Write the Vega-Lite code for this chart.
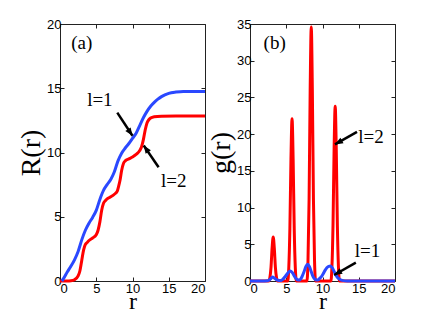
{
  "$schema": "https://vega.github.io/schema/vega-lite/v6.json",
  "background": "white",
  "padding": {"left": 17, "top": 17, "right": 5, "bottom": 0},
  "spacing": -5,
  "config": {
    "view": {"stroke": "#222", "strokeWidth": 1},
    "axis": {
      "labelFont": "Liberation Sans", "labelFontSize": 13, "labelColor": "black",
      "titleFont": "Liberation Serif", "titleFontSize": 28, "titleFontWeight": "normal", "titleColor": "black",
      "domain": false, "grid": false, "tickColor": "#222", "tickSize": -4, "labelPadding": 3
    },
    "axisX": {"labelPadding": 5, "titlePadding": -6, "titleFontSize": 24},
    "axisY": {"titlePadding": 1}
  },
  "datasets": {
    "R1": [
      {"r": 0.25, "R": 0}, {"r": 0.5, "R": 0.2}, {"r": 1, "R": 0.7}, {"r": 1.5, "R": 1.15}, {"r": 2, "R": 1.65},
      {"r": 2.5, "R": 2.3}, {"r": 3, "R": 3.2}, {"r": 3.5, "R": 3.95}, {"r": 4, "R": 4.5}, {"r": 4.5, "R": 4.95},
      {"r": 5, "R": 5.5}, {"r": 5.5, "R": 6.35}, {"r": 6, "R": 7.05}, {"r": 6.5, "R": 7.5}, {"r": 7, "R": 7.9},
      {"r": 7.5, "R": 8.5}, {"r": 8, "R": 9.35}, {"r": 8.5, "R": 9.95}, {"r": 9, "R": 10.35}, {"r": 9.5, "R": 10.7},
      {"r": 10, "R": 11.1}, {"r": 10.5, "R": 11.5}, {"r": 11, "R": 12.1}, {"r": 11.5, "R": 12.7}, {"r": 12, "R": 13.2},
      {"r": 12.5, "R": 13.6}, {"r": 13, "R": 13.9}, {"r": 13.5, "R": 14.15}, {"r": 14, "R": 14.35}, {"r": 15, "R": 14.6},
      {"r": 16, "R": 14.7}, {"r": 17, "R": 14.75}, {"r": 20, "R": 14.75}
    ],
    "R2": [
      {"r": 0, "R": 0}, {"r": 1, "R": 0}, {"r": 1.5, "R": 0.02}, {"r": 2, "R": 0.1}, {"r": 2.5, "R": 0.4},
      {"r": 2.75, "R": 0.8}, {"r": 3, "R": 1.6}, {"r": 3.25, "R": 2.4}, {"r": 3.5, "R": 2.85}, {"r": 3.75, "R": 3.0},
      {"r": 4, "R": 3.15}, {"r": 4.5, "R": 3.35}, {"r": 5, "R": 3.6}, {"r": 5.25, "R": 3.95}, {"r": 5.5, "R": 4.6},
      {"r": 5.75, "R": 5.5}, {"r": 6, "R": 6.05}, {"r": 6.25, "R": 6.25}, {"r": 6.5, "R": 6.4}, {"r": 7, "R": 6.55},
      {"r": 7.5, "R": 6.75}, {"r": 7.9, "R": 7.0}, {"r": 8.1, "R": 7.4}, {"r": 8.3, "R": 7.9}, {"r": 8.5, "R": 8.6},
      {"r": 8.75, "R": 9.15}, {"r": 9, "R": 9.35}, {"r": 9.5, "R": 9.5}, {"r": 10, "R": 9.65}, {"r": 10.5, "R": 9.85},
      {"r": 11, "R": 10.15}, {"r": 11.25, "R": 10.45}, {"r": 11.5, "R": 11.0}, {"r": 11.75, "R": 11.75}, {"r": 12, "R": 12.3},
      {"r": 12.25, "R": 12.55}, {"r": 12.5, "R": 12.68}, {"r": 13, "R": 12.78}, {"r": 14, "R": 12.83}, {"r": 16, "R": 12.85},
      {"r": 20, "R": 12.85}
    ],
    "g1": [
      {"r": 0, "g": 0}, {"r": 2, "g": 0}, {"r": 2.4, "g": 0.02}, {"r": 2.6, "g": 0.1}, {"r": 2.85, "g": 0.3},
      {"r": 3.1, "g": 0.55}, {"r": 3.35, "g": 0.4}, {"r": 3.6, "g": 0.2}, {"r": 3.85, "g": 0.1}, {"r": 4.1, "g": 0.06},
      {"r": 4.3, "g": 0.08}, {"r": 4.55, "g": 0.25}, {"r": 4.8, "g": 0.55}, {"r": 5.05, "g": 0.85}, {"r": 5.3, "g": 1.2},
      {"r": 5.55, "g": 1.37}, {"r": 5.8, "g": 1.2}, {"r": 6.05, "g": 0.8}, {"r": 6.3, "g": 0.4}, {"r": 6.55, "g": 0.17},
      {"r": 6.8, "g": 0.12}, {"r": 7.0, "g": 0.3}, {"r": 7.2, "g": 0.65}, {"r": 7.45, "g": 1.25}, {"r": 7.7, "g": 1.95},
      {"r": 7.95, "g": 2.28}, {"r": 8.2, "g": 1.95}, {"r": 8.45, "g": 1.25}, {"r": 8.7, "g": 0.6}, {"r": 8.95, "g": 0.25},
      {"r": 9.2, "g": 0.12}, {"r": 9.4, "g": 0.15}, {"r": 9.6, "g": 0.35}, {"r": 9.85, "g": 0.6}, {"r": 10.1, "g": 1.0},
      {"r": 10.35, "g": 1.45}, {"r": 10.6, "g": 1.8}, {"r": 10.85, "g": 2.0}, {"r": 11.1, "g": 2.05}, {"r": 11.35, "g": 1.8},
      {"r": 11.6, "g": 1.3}, {"r": 11.85, "g": 0.8}, {"r": 12.1, "g": 0.45}, {"r": 12.35, "g": 0.25}, {"r": 12.6, "g": 0.12},
      {"r": 12.9, "g": 0.05}, {"r": 13.5, "g": 0.01}, {"r": 14, "g": 0}, {"r": 20, "g": 0}
    ],
    "g2": [
      {"r": 0, "g": 0}, {"r": 2.6, "g": 0}, {"r": 2.75, "g": 0.5}, {"r": 2.9, "g": 1.9}, {"r": 3.05, "g": 4.5},
      {"r": 3.2, "g": 6.0}, {"r": 3.35, "g": 4.5}, {"r": 3.5, "g": 1.9}, {"r": 3.65, "g": 0.5}, {"r": 3.8, "g": 0},
      {"r": 5.2, "g": 0}, {"r": 5.35, "g": 1.8}, {"r": 5.5, "g": 7.1}, {"r": 5.65, "g": 16.6}, {"r": 5.8, "g": 22.1},
      {"r": 5.95, "g": 16.6}, {"r": 6.1, "g": 7.1}, {"r": 6.25, "g": 1.8}, {"r": 6.4, "g": 0},
      {"r": 7.85, "g": 0}, {"r": 8.0, "g": 2.8}, {"r": 8.15, "g": 11.1}, {"r": 8.3, "g": 26}, {"r": 8.45, "g": 34.6},
      {"r": 8.6, "g": 26}, {"r": 8.75, "g": 11.1}, {"r": 8.9, "g": 2.8}, {"r": 9.05, "g": 0},
      {"r": 11.15, "g": 0}, {"r": 11.3, "g": 1.9}, {"r": 11.45, "g": 7.6}, {"r": 11.6, "g": 17.9}, {"r": 11.75, "g": 23.8},
      {"r": 11.9, "g": 17.9}, {"r": 12.05, "g": 7.6}, {"r": 12.2, "g": 1.9}, {"r": 12.35, "g": 0}, {"r": 20, "g": 0}
    ]
  },
  "hconcat": [
    {
      "width": 145, "height": 257,
      "resolve": {"axis": {"x": "independent", "y": "independent"}},
      "layer": [
        {
          "data": {"name": "R2"},
          "mark": {"type": "line", "color": "#ff0000", "strokeWidth": 3, "interpolate": "monotone"},
          "encoding": {
            "x": {"field": "r", "type": "quantitative", "scale": {"domain": [0, 20], "nice": false}, "axis": {"values": [0, 5, 10, 15, 20], "title": "r"}},
            "y": {"field": "R", "type": "quantitative", "scale": {"domain": [0, 20], "nice": false}, "axis": {"values": [0, 5, 10, 15, 20], "title": "R(r)"}}
          }
        },
        {
          "data": {"name": "R1"},
          "mark": {"type": "line", "color": "#2a48ff", "strokeWidth": 3, "interpolate": "monotone"},
          "encoding": {
            "x": {"field": "r", "type": "quantitative", "axis": null},
            "y": {"field": "R", "type": "quantitative", "axis": null}
          }
        },
        {
          "data": {"values": [{"r": 0, "R": 0}]},
          "mark": {"type": "point", "opacity": 0},
          "encoding": {
            "x": {"field": "r", "type": "quantitative", "axis": {"orient": "top", "values": [0, 5, 10, 15, 20], "labels": false, "title": null}},
            "y": {"field": "R", "type": "quantitative", "axis": {"orient": "right", "values": [0, 5, 10, 15, 20], "labels": false, "title": null}}
          }
        },
        {
          "data": {"values": [{"x1": 7.9, "y1": 13.1, "x2": 10.0, "y2": 11.3}, {"x1": 13.6, "y1": 8.85, "x2": 11.55, "y2": 10.55}]},
          "mark": {"type": "rule", "color": "black", "strokeWidth": 2.5},
          "encoding": {
            "x": {"field": "x1", "type": "quantitative", "axis": null}, "y": {"field": "y1", "type": "quantitative", "axis": null},
            "x2": {"field": "x2"}, "y2": {"field": "y2"}
          }
        },
        {
          "data": {"values": [{"x": 10.0, "y": 11.3}]},
          "mark": {"type": "point", "shape": "M0,0L-0.4,1L0.4,1Z", "size": 256, "filled": true, "color": "black", "opacity": 1, "angle": 145.7},
          "encoding": {"x": {"field": "x", "type": "quantitative", "axis": null}, "y": {"field": "y", "type": "quantitative", "axis": null}}
        },
        {
          "data": {"values": [{"x": 11.55, "y": 10.55}]},
          "mark": {"type": "point", "shape": "M0,0L-0.4,1L0.4,1Z", "size": 256, "filled": true, "color": "black", "opacity": 1, "angle": 325.4},
          "encoding": {"x": {"field": "x", "type": "quantitative", "axis": null}, "y": {"field": "y", "type": "quantitative", "axis": null}}
        },
        {
          "data": {"values": [{"x": 5.5, "y": 14.1, "t": "l=1"}, {"x": 15.7, "y": 7.8, "t": "l=2"}, {"x": 3.0, "y": 18.5, "t": "(a)"}]},
          "mark": {"type": "text", "font": "Liberation Serif", "fontSize": 19, "color": "black", "align": "center", "baseline": "middle"},
          "encoding": {"x": {"field": "x", "type": "quantitative", "axis": null}, "y": {"field": "y", "type": "quantitative", "axis": null}, "text": {"field": "t"}}
        }
      ]
    },
    {
      "width": 145, "height": 257,
      "resolve": {"axis": {"x": "independent", "y": "independent"}},
      "layer": [
        {
          "data": {"name": "g2"},
          "mark": {"type": "line", "color": "#ff0000", "strokeWidth": 3, "interpolate": "monotone"},
          "encoding": {
            "x": {"field": "r", "type": "quantitative", "scale": {"domain": [0, 20], "nice": false}, "axis": {"values": [0, 5, 10, 15, 20], "title": "r"}},
            "y": {"field": "g", "type": "quantitative", "scale": {"domain": [0, 35], "nice": false}, "axis": {"values": [0, 5, 10, 15, 20, 25, 30, 35], "title": "g(r)"}}
          }
        },
        {
          "data": {"name": "g1"},
          "mark": {"type": "line", "color": "#2a48ff", "strokeWidth": 3, "interpolate": "monotone"},
          "encoding": {
            "x": {"field": "r", "type": "quantitative", "axis": null},
            "y": {"field": "g", "type": "quantitative", "axis": null}
          }
        },
        {
          "data": {"values": [{"r": 0, "g": 0}]},
          "mark": {"type": "point", "opacity": 0},
          "encoding": {
            "x": {"field": "r", "type": "quantitative", "axis": {"orient": "top", "values": [0, 5, 10, 15, 20], "labels": false, "title": null}},
            "y": {"field": "g", "type": "quantitative", "axis": {"orient": "right", "values": [0, 5, 10, 15, 20, 25, 30, 35], "labels": false, "title": null}}
          }
        },
        {
          "data": {"values": [{"x1": 14.76, "y1": 20.3, "x2": 11.72, "y2": 18.6}, {"x1": 14.6, "y1": 2.5, "x2": 11.6, "y2": 0.82}]},
          "mark": {"type": "rule", "color": "black", "strokeWidth": 2.5},
          "encoding": {
            "x": {"field": "x1", "type": "quantitative", "axis": null}, "y": {"field": "y1", "type": "quantitative", "axis": null},
            "x2": {"field": "x2"}, "y2": {"field": "y2"}
          }
        },
        {
          "data": {"values": [{"x": 11.72, "y": 18.6}]},
          "mark": {"type": "point", "shape": "M0,0L-0.4,1L0.4,1Z", "size": 256, "filled": true, "color": "black", "opacity": 1, "angle": 240.8},
          "encoding": {"x": {"field": "x", "type": "quantitative", "axis": null}, "y": {"field": "y", "type": "quantitative", "axis": null}}
        },
        {
          "data": {"values": [{"x": 11.6, "y": 0.82}]},
          "mark": {"type": "point", "shape": "M0,0L-0.4,1L0.4,1Z", "size": 256, "filled": true, "color": "black", "opacity": 1, "angle": 240.4},
          "encoding": {"x": {"field": "x", "type": "quantitative", "axis": null}, "y": {"field": "y", "type": "quantitative", "axis": null}}
        },
        {
          "data": {"values": [{"x": 16.7, "y": 19.6, "t": "l=2"}, {"x": 16.2, "y": 4.1, "t": "l=1"}, {"x": 3.4, "y": 32.4, "t": "(b)"}]},
          "mark": {"type": "text", "font": "Liberation Serif", "fontSize": 19, "color": "black", "align": "center", "baseline": "middle"},
          "encoding": {"x": {"field": "x", "type": "quantitative", "axis": null}, "y": {"field": "y", "type": "quantitative", "axis": null}, "text": {"field": "t"}}
        }
      ]
    }
  ]
}
